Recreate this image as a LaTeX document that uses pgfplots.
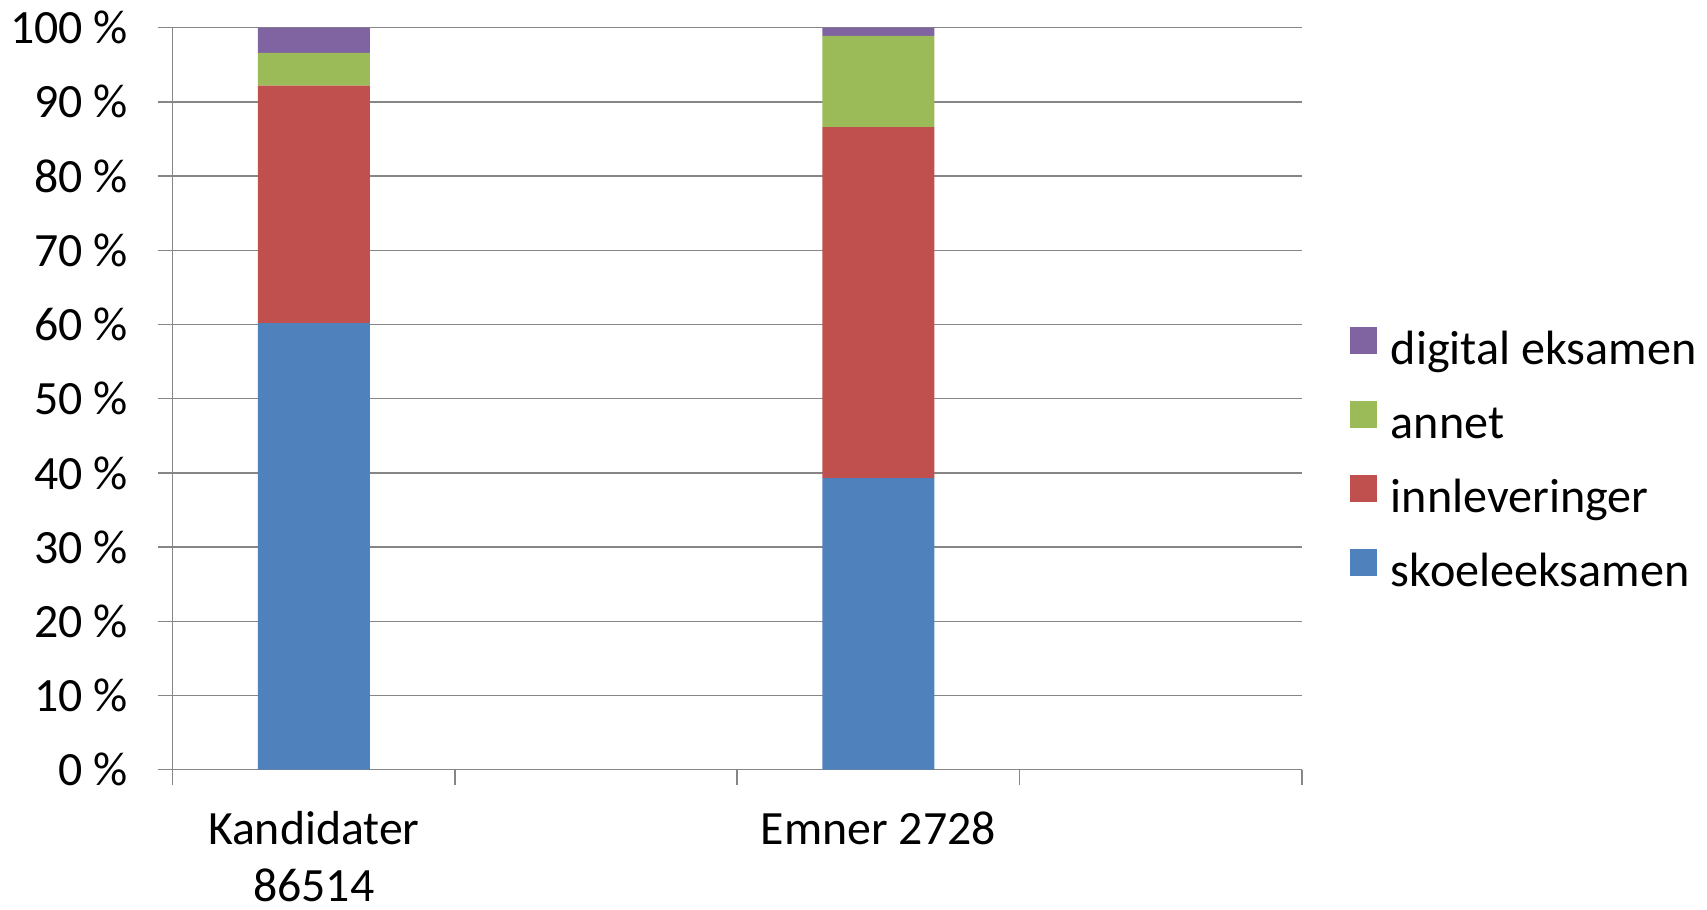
\documentclass[border=0pt]{standalone}
\usepackage{pgfplots}
\pgfplotsset{compat=1.18}
\usepackage{fontspec}
\setmainfont{Carlito}
\definecolor{cblue}{HTML}{4F81BD}
\definecolor{cred}{HTML}{C0504D}
\definecolor{cgreen}{HTML}{9BBB59}
\definecolor{cpurple}{HTML}{8064A2}
\definecolor{cgrid}{HTML}{868686}
\begin{document}
\begin{tikzpicture}
\useasboundingbox (0,0) rectangle (17.07cm,9.09cm);
\begin{axis}[
  at={(1.727cm,1.393cm)}, anchor=south west,
  width=11.29cm, height=7.42cm, scale only axis,
  ybar stacked, bar width=0.397,
  xmin=-0.5, xmax=3.5, ymin=0, ymax=100,
  enlargelimits=false,
  axis x line*=bottom, axis y line*=left,
  axis line style={cgrid, line width=0.45pt, -},
  xtick={0,2},
  xticklabels={{Kandidater\\86514},{Emner 2728}},
  minor xtick={-0.5,0.5,1.5,2.5,3.5},
  major x tick style={draw=none},
  minor tick length=0.15cm,
  ytick={0,10,...,100},
  major tick length=0.15cm,
  tick align=outside,
  tick style={cgrid, line width=0.45pt},
  ymajorgrids, grid style={cgrid, line width=0.45pt},
  yticklabel={\pgfmathprintnumber[assume math mode=true]{\tick}~\%},
  ticklabel style={font=\fontsize{13.6}{16.2}\selectfont},
  xticklabel style={align=center, inner sep=0pt, yshift=-0.26cm},
  yticklabel style={inner sep=0pt, xshift=-0.29cm},
  reverse legend,
  legend style={draw=none, fill=none, at={(1,0.415)}, anchor=west, xshift=0.475cm,
    inner sep=0pt, font=\fontsize{13.7}{15}\selectfont,
    nodes={inner sep=0pt, text height=0.3cm, text depth=0.1cm},
    row sep=0.27cm, column sep=0.14cm},
  legend cell align=left,
  legend image code/.code={\fill[#1] (0cm,0cm) rectangle (0.27cm,0.27cm);},
]
\addplot[fill=cblue, draw=none] coordinates {(0,60.2) (2,39.3)};
\addplot[fill=cred, draw=none] coordinates {(0,32.0) (2,47.3)};
\addplot[fill=cgreen, draw=none] coordinates {(0,4.4) (2,12.3)};
\addplot[fill=cpurple, draw=none] coordinates {(0,3.4) (2,1.1)};
\legend{skoeleeksamen, innleveringer, annet, digital eksamen}
\end{axis}
\end{tikzpicture}
\end{document}
